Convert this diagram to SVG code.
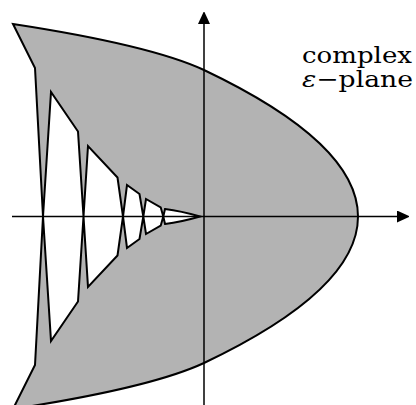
<svg xmlns="http://www.w3.org/2000/svg" width="416" height="405" viewBox="0 0 416 405">
  <style>
    .region { fill: #b3b3b3; stroke: #000; stroke-width: 2; fill-rule: evenodd; stroke-linejoin: miter; stroke-miterlimit: 6; }
    .axis { stroke: #000; stroke-width: 1.5; fill: none; }
    .label { font-family: "DejaVu Serif", "Liberation Serif", serif; font-size: 23px; fill: #000; }
  </style>
  <defs>
    <marker id="arrow" viewBox="0 0 12 12" refX="0" refY="6" markerWidth="12" markerHeight="12" markerUnits="userSpaceOnUse" orient="auto">
      <path d="M0,0 L13,6 L0,12 Z" fill="#000"/>
    </marker>
  </defs>
  <g id="region">
    <path class="region" d="M13,24 Q150,45 204,70 Q512,216.5 204,363 Q150,388 13,409 L35,365 L43,216.5 L35,68 Z
      M43,216.5 L51,92 L78,131.5 L83.5,216.5 L78,301.5 L51,341 Z
      M83.5,216.5 L88,146 L117.5,177.5 L123,216.5 L117.5,255.5 L88,287 Z
      M123,216.5 L127,185 L139.5,194 L143.3,216.5 L139.5,239 L127,248 Z
      M143.3,216.5 L146,199 L160.7,207.3 L163.3,216.5 L160.7,225.7 L146,234 Z
      M163.3,216.5 L165,209 Q181,211 200,216.5 Q181,222 165,224 Z"/>
  </g>
  <g id="connectors">
    <line class="axis" x1="204" y1="405" x2="204" y2="24" marker-end="url(#arrow)"/>
    <line class="axis" x1="12" y1="216.5" x2="397" y2="216.5" marker-end="url(#arrow)"/>
  </g>
  <g id="label">
    <text class="label" x="302" y="63" textLength="110" lengthAdjust="spacingAndGlyphs">complex</text>
    <text class="label" x="302" y="87" textLength="111" lengthAdjust="spacingAndGlyphs"><tspan font-style="italic">ε</tspan>−plane</text>
  </g>
</svg>
